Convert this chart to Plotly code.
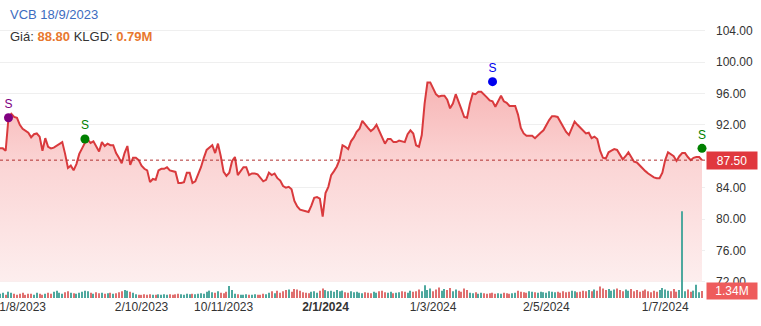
import pandas as pd
import plotly.graph_objects as go

# Daily closing prices (thousand VND), VCB, one per trading session
close = [
    89.0, 89.0, 88.7, 92.9, 93.4, 93.0, 92.9, 92.0, 91.5, 91.2,
    91.0, 90.4, 90.8, 90.9, 90.5, 88.7, 90.3, 89.2, 89.0, 89.1,
    89.3, 89.5, 89.8, 88.3, 86.5, 86.8, 86.2, 87.0, 88.3, 89.0,
    89.7, 90.1, 89.7, 89.9, 89.3, 88.6, 89.8, 89.3, 89.6, 89.4,
    89.4, 88.4, 87.8, 87.1, 88.4, 89.3, 86.9, 87.8, 87.8, 87.5,
    86.8, 86.4, 86.2, 84.7, 85.1, 85.0, 86.2, 86.4, 86.4, 86.6,
    86.2, 86.1, 86.0, 84.6, 84.6, 84.7, 85.9, 85.9, 84.6, 84.8,
    85.6, 86.6, 87.8, 88.8, 89.1, 89.4, 88.4, 89.6, 88.0, 86.0,
    85.5, 85.9, 87.4, 87.9, 85.6, 86.1, 86.6, 86.6, 85.6, 85.8,
    85.8, 85.7, 85.2, 84.8, 85.0, 85.9, 85.6, 85.8, 85.2, 84.9,
    84.2, 84.0, 84.1, 83.8, 82.3, 81.6, 81.2, 81.1, 81.0, 80.9,
    81.7, 82.7, 82.8, 82.6, 80.3, 83.3, 84.1, 85.6, 86.1, 86.7,
    87.6, 89.4, 89.2, 88.9, 89.9, 90.4, 91.1, 91.5, 92.5, 92.0,
    91.6, 91.2, 91.5, 92.0, 91.2, 90.6, 89.6, 90.2, 90.2, 89.8,
    89.8, 90.0, 89.9, 89.8, 90.8, 91.3, 90.9, 89.4, 89.2, 90.7,
    94.7, 97.4, 97.4, 96.7, 95.9, 95.6, 95.7, 95.7, 95.2, 94.1,
    94.7, 95.9, 94.8, 94.0, 93.0, 92.9, 94.7, 96.0, 95.9, 96.2,
    96.2, 95.9, 95.5, 95.1, 95.0, 94.3, 95.0, 95.7, 95.0, 94.8,
    94.4, 94.4, 94.4, 93.3, 91.6, 90.9, 90.6, 90.6, 90.6, 90.3,
    90.7, 91.0, 91.3, 92.0, 92.6, 93.1, 93.1, 93.0, 92.4, 91.7,
    91.1, 90.7, 91.6, 92.4, 92.0, 91.6, 91.2, 90.9, 91.0, 90.3,
    90.5, 90.2, 88.7, 87.8, 87.7, 88.5, 88.7, 88.9, 88.8, 88.2,
    87.6, 88.0, 88.5, 87.9, 87.3, 87.2, 86.8, 86.4, 86.1, 85.8,
    85.5, 85.3, 85.2, 85.2, 85.9, 87.5, 88.5, 88.3, 88.0, 87.4,
    88.0, 88.4, 88.4, 87.9, 87.5, 87.8, 87.9, 87.9, 87.5,
]

# Matched volume per session (million shares)
volume = [
    0.8, 1.0, 0.6, 1.2, 1.0, 0.8, 0.6, 0.8, 1.0, 0.6,
    0.8, 0.8, 0.6, 1.0, 0.8, 0.6, 0.8, 1.0, 0.8, 1.2,
    1.4, 1.0, 0.8, 1.1, 1.3, 1.0, 0.9, 0.8, 1.0, 1.2,
    1.4, 1.3, 1.0, 0.8, 1.1, 0.9, 1.0, 0.8, 0.9, 1.0,
    0.79, 0.9, 1.1, 1.3, 1.5, 1.4, 1.2, 1.0, 0.7, 0.6,
    0.6, 0.7, 0.6, 0.7, 0.6, 0.6, 0.7, 0.6, 0.7, 0.6,
    0.7, 0.6, 0.7, 0.8, 0.7, 0.6, 0.8, 0.7, 0.8, 0.7,
    0.8, 0.9, 0.8, 1.2, 1.4, 1.1, 1.0, 1.3, 1.0, 0.9,
    1.2, 2.3, 1.5, 0.8, 0.7, 0.6, 0.6, 0.7, 0.6, 0.6,
    0.7, 0.6, 0.6, 0.8, 0.7, 1.0, 1.3, 0.9, 1.4, 1.0,
    1.3, 1.5, 1.6, 1.2, 1.7, 1.6, 1.4, 1.1, 1.0, 0.9,
    1.2, 1.3, 1.0, 1.4, 1.8, 1.5, 1.3, 1.4, 1.2, 1.5,
    1.3, 1.4, 1.1, 1.0, 1.3, 1.1, 1.2, 1.0, 0.9, 1.1,
    1.0, 0.9, 1.2, 1.0, 1.3, 1.4, 1.1, 1.0, 1.2, 0.9,
    1.0, 1.1, 1.3, 1.2, 1.0, 1.4, 1.2, 1.3, 1.6, 1.3,
    2.4, 1.5, 1.8, 1.3, 1.6, 2.0, 1.4, 1.7, 1.5, 1.9,
    1.3, 1.6, 1.4, 1.2, 1.8, 1.5, 1.0, 0.9, 1.1, 0.8,
    1.0, 0.9, 0.8, 0.9, 1.0, 0.8, 0.9, 0.8, 1.0, 0.9,
    0.8, 0.9, 1.0, 1.4, 1.2, 1.1, 1.0, 1.3, 1.2, 1.1,
    1.0, 1.2, 1.1, 1.0, 1.3, 1.2, 1.1, 1.2, 1.0, 1.3,
    1.1, 1.2, 1.4, 1.3, 1.1, 1.2, 1.4, 1.3, 1.5, 1.3,
    1.6, 1.4, 2.2, 1.8, 1.5, 1.7, 1.4, 1.6, 1.8, 1.5,
    1.3, 1.6, 1.4, 1.7, 1.3, 1.5, 1.2, 1.4, 1.6, 1.3,
    1.1, 1.4, 1.2, 1.5, 1.9, 1.6, 1.4, 1.3, 1.7, 1.2,
    1.5, 16.5, 1.3, 1.6, 1.2, 1.4, 2.5, 1.1, 1.34,
]

# Trading calendar: weekdays minus HOSE market holidays
holidays = [
    "2023-09-01", "2023-09-04", "2024-01-01",
    "2024-02-08", "2024-02-09", "2024-02-12", "2024-02-13", "2024-02-14",
    "2024-04-18", "2024-04-29", "2024-04-30", "2024-05-01",
]
sessions = pd.bdate_range("2023-07-20", "2024-08-30")
sessions = sessions[~sessions.isin(pd.to_datetime(holidays))][: len(close)]
dates = [d.strftime("%Y-%m-%d") for d in sessions]

tick_dates = ["2023-08-01", "2023-10-02", "2023-11-10", "2024-01-02",
              "2024-03-01", "2024-05-02", "2024-07-01"]
tick_labels = ["1/8/2023", "2/10/2023", "10/11/2023", "<b>2/1/2024</b>",
               "1/3/2024", "2/5/2024", "1/7/2024"]

# Price axis labels (88 sits under the last-price tag)
price_ticks = [72, 76, 80, 84, 92, 96, 100, 104]

# Sell signals: session, marker price, colour
signal_dates = ["2023-07-25", "2023-08-31", "2024-04-01", "2024-07-18"]
signal_price = [92.9, 90.2, 97.5, 89.0]
signal_color = ["#800080", "#008000", "#0000ee", "#008000"]

last_price = 87.50
last_volume = 1.34
price_floor = 72.0

FONT = "Liberation Sans, Arial, sans-serif"

bar_colors = ["#4ea89e"] + [
    "#4ea89e" if close[k] >= close[k - 1] else "#e07070" for k in range(1, len(close))
]

fig = go.Figure()

# Volume bars on their own hidden scale
fig.add_trace(go.Bar(
    x=dates, y=volume, yaxis="y2", marker=dict(color=bar_colors, line_width=0),
    hoverinfo="skip", showlegend=False,
))

# Baseline the price area fills down to
fig.add_trace(go.Scatter(
    x=dates, y=[price_floor] * len(dates), mode="lines",
    line=dict(width=0), hoverinfo="skip", showlegend=False,
))

# Price line with gradient area
fig.add_trace(go.Scatter(
    x=dates, y=close, mode="lines",
    line=dict(color="#d93a3d", width=2),
    fill="tonexty",
    fillgradient=dict(
        type="vertical",
        colorscale=[[0, "#fdeeee"], [0.55, "#fbd6d6"], [1, "#f7b3b3"]],
        start=price_floor, stop=98,
    ),
    showlegend=False,
))

# Signal markers
fig.add_trace(go.Scatter(
    x=signal_dates, y=signal_price, mode="markers+text",
    marker=dict(size=9, color=signal_color),
    text=["S"] * len(signal_dates), textposition="top center",
    textfont=dict(family=FONT, size=12, color=signal_color),
    cliponaxis=False, showlegend=False,
))

# Reference line at last price
fig.add_shape(type="line", xref="paper", x0=0, x1=1, yref="y",
              y0=last_price, y1=last_price,
              line=dict(color="#b03030", width=1, dash="dot"))

annotations = [
    dict(xref="paper", yref="paper", x=0.011, y=0.95, xanchor="left", yanchor="middle",
         text="VCB 18/9/2023", showarrow=False,
         font=dict(family=FONT, size=13, color="#3d6cc0")),
    dict(xref="paper", yref="paper", x=0.011, y=0.876, xanchor="left", yanchor="middle",
         text=("Giá: <span style='color:#e8782e'><b>88.80</b></span> KLGD: "
               "<span style='color:#e8782e'><b>0.79M</b></span>"),
         showarrow=False, font=dict(family=FONT, size=13, color="#333333")),
    dict(xref="paper", yref="y", x=1, y=last_price, xanchor="left", yanchor="middle",
         xshift=1, text=f"{last_price:.2f}", showarrow=False, width=46, height=13,
         bgcolor="#e0383e", borderpad=2, font=dict(family=FONT, size=12, color="white")),
    dict(xref="paper", yref="y2", x=1, y=last_volume, xanchor="left", yanchor="middle",
         xshift=1, text=f"{last_volume:.2f}M", showarrow=False, width=46, height=12,
         bgcolor="#ee5c5c", borderpad=2, font=dict(family=FONT, size=12, color="white")),
]

fig.update_layout(
    width=761, height=326,
    margin=dict(l=0, r=56, t=0, b=28),
    paper_bgcolor="white", plot_bgcolor="white",
    bargap=0.62,
    annotations=annotations,
    xaxis=dict(
        type="category", range=[0, 249.06],
        tickmode="array", tickvals=tick_dates, ticktext=tick_labels,
        showgrid=False, zeroline=False, showline=False, ticks="",
        tickfont=dict(family=FONT, size=12, color="#333333"),
    ),
    yaxis=dict(
        side="right", range=[69.94, 107.9],
        tickmode="array", tickvals=price_ticks,
        ticktext=[f"{v:.2f}" for v in price_ticks],
        showgrid=True, gridcolor="#efefef", gridwidth=1,
        zeroline=False, showline=False, ticks="", ticklabelstandoff=10,
        tickfont=dict(family=FONT, size=12, color="#333333"),
    ),
    yaxis2=dict(overlaying="y", range=[0, 56.6], visible=False),
)

fig.write_html("out.html")
